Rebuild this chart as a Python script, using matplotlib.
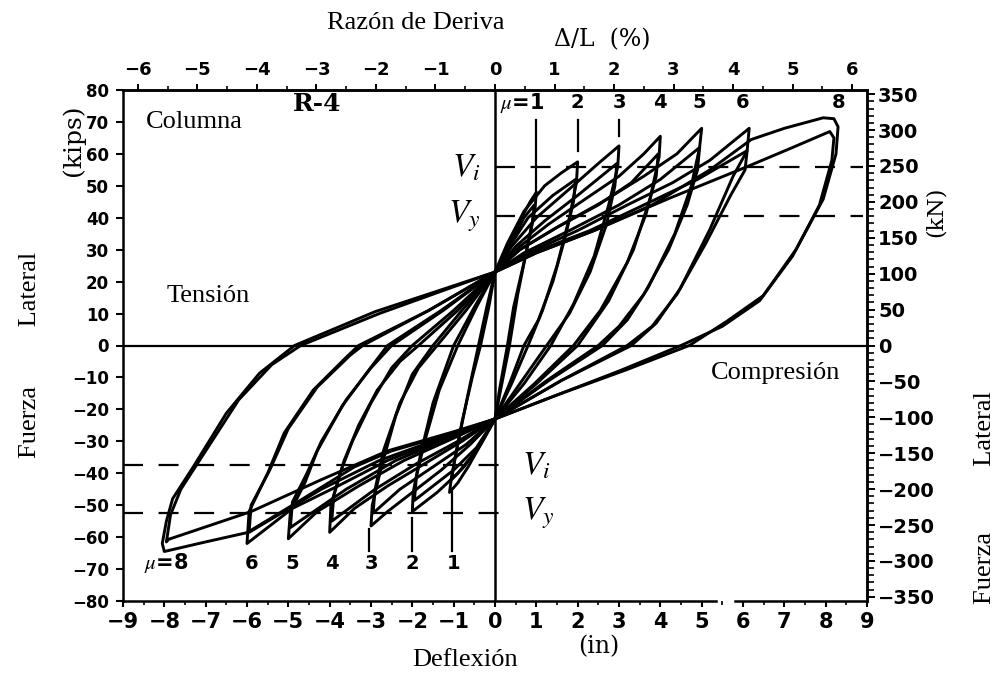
import matplotlib
matplotlib.use("Agg")
import matplotlib.pyplot as plt
from matplotlib.ticker import MultipleLocator, FixedLocator

plt.rcParams["mathtext.fontset"] = "stix"

# ---------------------------------------------------------------- data
# Lateral force (kips) vs. tip deflection (in), column R-4.
# Each cycle: pinch(+) -> peak(+) -> unload -> pinch(-) -> peak(-) -> reload.
mu1_a = [(0.0, 23), (0.3, 30), (0.6, 39), (0.85, 45), (1.0, 48), (0.97, 43), (0.8, 32),
         (0.55, 16), (0.35, 0), (0.15, -13), (0.0, -23), (-0.3, -30), (-0.65, -38),
         (-0.9, -43), (-1.1, -46), (-1.05, -41), (-0.9, -31), (-0.65, -15), (-0.4, 0),
         (-0.2, 12), (0.0, 23)]
mu1_b = [(0.0, 23), (0.35, 31), (0.7, 40), (0.95, 44), (0.9, 38), (0.7, 26), (0.45, 12),
         (0.3, 0), (0.12, -13), (0.0, -23), (-0.35, -31), (-0.75, -38), (-1.05, -42),
         (-0.98, -36), (-0.8, -24), (-0.55, -10), (-0.35, 0), (-0.15, 12), (0.0, 23)]
mu2_a = [(0.0, 23), (0.3, 32), (0.7, 42), (1.2, 50), (1.6, 54), (2.0, 57.5), (1.97, 51),
         (1.8, 40), (1.5, 25), (1.15, 11), (0.8, 0), (0.4, -12), (0.0, -23), (-0.4, -32),
         (-0.9, -40), (-1.4, -46), (-2.0, -52), (-1.98, -46), (-1.8, -34), (-1.5, -18),
         (-1.0, 0), (-0.5, 12), (0.0, 23)]
mu2_b = [(0.0, 23), (0.35, 31), (0.8, 40), (1.4, 47), (1.95, 52), (1.9, 45), (1.7, 34),
         (1.4, 20), (1.05, 8), (0.7, 0), (0.35, -12), (0.0, -23), (-0.45, -32),
         (-1.0, -39), (-1.5, -44), (-1.95, -48.5), (-1.9, -41), (-1.7, -30),
         (-1.35, -14), (-0.9, 0), (-0.45, 12), (0.0, 23)]
mu3_a = [(0.0, 23), (0.4, 31), (1.0, 40), (1.8, 49), (2.5, 57), (3.0, 62.5), (2.97, 56),
         (2.75, 44), (2.4, 28), (1.9, 13), (1.35, 0), (0.7, -12), (0.0, -23), (-0.6, -31),
         (-1.3, -39), (-2.0, -46), (-2.6, -52), (-3.0, -56.5), (-2.97, -50),
         (-2.75, -38), (-2.4, -22), (-2.0, -9), (-1.5, 0), (-0.8, 11), (0.0, 23)]
mu3_b = [(0.0, 23), (0.5, 31), (1.2, 39), (2.0, 47), (2.95, 57), (2.9, 50), (2.7, 38),
         (2.3, 23), (1.8, 10), (1.25, 0), (0.6, -12), (0.0, -23), (-0.7, -31),
         (-1.5, -38), (-2.3, -45), (-2.95, -52.5), (-2.9, -45), (-2.7, -33),
         (-2.3, -18), (-1.85, -7), (-1.4, 0), (-0.7, 11), (0.0, 23)]
mu4_a = [(0.0, 23), (0.5, 30), (1.3, 38), (2.2, 46), (3.0, 53), (3.6, 60), (4.0, 65.5),
         (3.97, 59), (3.75, 46), (3.35, 30), (2.75, 14), (2.0, 0), (1.0, -12), (0.0, -23),
         (-0.8, -30), (-1.7, -37), (-2.6, -44), (-3.4, -51), (-4.0, -58.5), (-3.97, -50),
         (-3.75, -40), (-3.45, -30), (-3.0, -18), (-2.5, -7), (-2.0, 0), (-1.0, 11),
         (0.0, 23)]
mu4_b = [(0.0, 23), (0.6, 30), (1.5, 37), (2.5, 44), (3.3, 51), (3.95, 60), (3.9, 53),
         (3.65, 41), (3.2, 26), (2.55, 11), (1.9, 0), (0.95, -12), (0.0, -23),
         (-0.9, -30), (-1.9, -37), (-2.9, -45), (-3.95, -55), (-3.9, -47), (-3.65, -36),
         (-3.3, -25), (-2.85, -14), (-2.3, -5), (-1.85, 0), (-0.9, 11), (0.0, 23)]
mu5_a = [(0.0, 23), (0.6, 30), (1.5, 37), (2.6, 45), (3.6, 53), (4.4, 60), (5.0, 68),
         (4.95, 62), (4.75, 50), (4.35, 35), (3.7, 18), (3.2, 8), (2.6, 0), (1.3, -11),
         (0.0, -23), (-1.0, -29), (-2.2, -36), (-3.3, -44), (-4.3, -52), (-5.0, -60.5),
         (-4.95, -52), (-4.6, -43), (-4.3, -33), (-3.7, -19), (-3.1, -8.5), (-2.6, 0),
         (-1.3, 11), (0.0, 23)]
mu5_b = [(0.0, 23), (0.7, 29), (1.8, 36), (3.0, 44), (4.0, 52), (4.95, 62), (4.9, 55),
         (4.65, 44), (4.2, 30), (3.6, 16), (3.0, 6), (2.5, 0), (1.25, -11), (0.0, -23),
         (-1.1, -29), (-2.4, -36), (-3.6, -45), (-4.95, -57), (-4.9, -49), (-4.55, -40),
         (-4.2, -30), (-3.6, -17), (-3.0, -7), (-2.5, 0), (-1.25, 11), (0.0, 23)]
mu6_a = [(0.0, 23), (0.8, 29), (2.0, 36), (3.2, 44), (4.3, 51), (5.2, 58), (6.15, 68),
         (6.1, 61), (5.76, 53), (5.2, 36.4), (4.48, 17.8), (3.9, 7), (3.3, 0), (1.6, -11),
         (0.0, -23), (-1.2, -29), (-2.6, -36), (-3.8, -44), (-4.9, -51), (-6.0, -62),
         (-5.95, -52), (-5.5, -40), (-5.1, -27.4), (-4.4, -14), (-3.6, -3.7), (-3.3, 0),
         (-1.6, 11), (0.0, 23)]
mu6_b = [(0.0, 23), (0.9, 29), (2.3, 36), (3.6, 44), (4.9, 52), (6.1, 61), (6.05, 55),
         (5.7, 47), (5.1, 32), (4.4, 16), (3.8, 6), (3.2, 0), (1.6, -11), (0.0, -23),
         (-1.3, -29), (-2.8, -36), (-4.2, -45), (-5.95, -58.5), (-5.9, -50), (-5.45, -39),
         (-5.0, -26), (-4.3, -13), (-3.5, -3), (-3.2, 0), (-1.6, 11), (0.0, 23)]
mu8_a = [(0.0, 23), (1.0, 29), (2.4, 36), (3.8, 44), (5.2, 55), (6.2, 64.5), (7.0, 68),
         (7.94, 71.3), (8.2, 71), (8.3, 68.5), (8.25, 60), (7.94, 45.8), (7.29, 30.2),
         (6.49, 15.6), (5.6, 7.5), (4.7, 0), (3.2, -7.5), (1.5, -15.5), (0.0, -23),
         (-0.9, -27), (-2.5, -33), (-3.4, -38), (-4.9, -50), (-6.0, -58.6), (-7.0, -61.5),
         (-8.0, -64.5), (-8.05, -62), (-7.95, -55), (-7.8, -48), (-7.3, -38),
         (-6.5, -21.2), (-5.7, -8.7), (-4.85, 0), (-2.9, 10.6), (-1.4, 17), (0.0, 23)]
mu8_b = [(0.0, 23), (1.0, 29), (2.4, 36), (4.2, 46), (6.1, 56), (7.2, 62), (8.1, 67),
         (8.2, 65), (8.15, 58), (7.85, 44), (7.2, 28), (6.4, 14), (5.5, 6), (4.5, 0),
         (3.0, -8), (1.5, -15.5), (0.0, -23), (-1.0, -27), (-2.6, -33), (-4.2, -42),
         (-5.9, -52), (-7.9, -60.7), (-7.95, -61.5), (-7.85, -53), (-7.6, -45),
         (-7.0, -33), (-6.2, -17), (-5.4, -6), (-4.7, 0), (-2.8, 10), (-1.3, 17),
         (0.0, 23)]

cycles = [mu1_a, mu1_b, mu2_a, mu2_b, mu3_a, mu3_b, mu4_a, mu4_b,
          mu5_a, mu5_b, mu6_a, mu6_b, mu8_a, mu8_b]

# strength levels (kips)
v_i_pos, v_y_pos = 56.0, 40.5
v_i_neg, v_y_neg = -37.5, -52.5

# ductility levels marked along the top and bottom
mu_top = ["2", "3", "4", "5", "6", "8"]
mu_top_x = [2.0, 3.0, 4.0, 4.95, 6.0, 8.3]
mu_bot = ["6", "5", "4", "3", "2", "1"]
mu_bot_x = [-5.9, -4.9, -3.95, -3.0, -2.0, -1.0]
# pointer lines: x, y_start, y_end
pointer_top = [(1.0, 70.7, 48.5), (2.0, 70.7, 60.8), (3.0, 70.7, 65.7)]
pointer_bot = [(-3.05, -57.6, -64.5), (-2.0, -53.9, -64.5), (-1.05, -45.8, -64.5)]

column_height = 144.0   # in, drift ratio = deflection / L
kip_to_kn = 4.448

# ---------------------------------------------------------------- figure
W, H = 1006, 673
fig = plt.figure(figsize=(W / 100, H / 100), dpi=100)
ax = fig.add_axes([123 / W, 1 - 601 / H, (867 - 123) / W, (601 - 90) / H])

for c in cycles:
    xs = [p[0] for p in c]
    ys = [p[1] for p in c]
    ax.plot(xs, ys, color="black", lw=2.1, solid_joinstyle="round", zorder=3)

ax.set_xlim(-9, 9)
ax.set_ylim(-80, 80)
ax.axhline(0, color="black", lw=1.6, zorder=2)
ax.axvline(0, color="black", lw=1.8, zorder=2)

dash = dict(color="black", lw=1.6, dashes=(9, 7), zorder=2)
ax.plot([0, 8.9], [v_i_pos, v_i_pos], **dash)
ax.plot([0, 8.9], [v_y_pos, v_y_pos], **dash)
ax.plot([-9, 0.45], [v_i_neg, v_i_neg], **dash)
ax.plot([-9, 0.45], [v_y_neg, v_y_neg], **dash)

vfont = dict(fontsize=24, color="black")
ax.text(-0.35, v_i_pos, r"$V_i$", ha="right", va="center", **vfont)
ax.text(-0.35, v_y_pos, r"$V_y$", ha="right", va="center", **vfont)
ax.text(0.65, v_i_neg, r"$V_i$", ha="left", va="center", **vfont)
ax.text(0.65, v_y_neg, r"$V_y$", ha="left", va="center", **vfont)

# ductility annotations
mfont = dict(fontsize=14, fontweight="bold", family="DejaVu Sans", ha="center", va="center")
ax.text(1.18, 76, r"$\mu$=1", **{**mfont, "ha": "right", "fontsize": 15})
for lab, x in zip(mu_top, mu_top_x):
    ax.text(x, 76, lab, **mfont)
ax.text(-7.95, -68.2, r"$\mu$=8", **{**mfont, "fontsize": 15})
for lab, x in zip(mu_bot, mu_bot_x):
    ax.text(x, -68.2, lab, **mfont)
for x, y0, y1 in pointer_top + pointer_bot:
    ax.plot([x, x], [y0, y1], color="black", lw=1.6, zorder=3)

serif = dict(family="Liberation Serif", fontsize=19, color="black")
ax.text(-8.45, 70, "Columna", ha="left", va="center", **serif)
ax.text(-4.3, 75.5, "R-4", ha="center", va="center", family="DejaVu Serif",
        fontsize=18, fontweight="bold")
ax.text(-7.95, 15.5, "Tensión", ha="left", va="center", **serif)
ax.text(8.35, -8.5, "Compresión", ha="right", va="center", **serif)

# frame: bottom spine is broken between 5 and 6 in
for s in ["left", "top", "right"]:
    ax.spines[s].set_linewidth(1.8)
ax.spines["bottom"].set_visible(False)
ax.plot([-9, 5.35], [-80, -80], color="black", lw=1.8, clip_on=False, zorder=4)
ax.plot([5.8, 9], [-80, -80], color="black", lw=1.8, clip_on=False, zorder=4)

ax.yaxis.set_major_locator(MultipleLocator(10))
ax.tick_params(axis="y", direction="out", length=5, width=1.5, pad=5, labelsize=12)
ax.xaxis.set_major_locator(MultipleLocator(1))
ax.xaxis.set_minor_locator(MultipleLocator(0.5))
ax.tick_params(axis="x", which="major", direction="out", length=4, width=1.5,
               pad=4, labelsize=15)
ax.tick_params(axis="x", which="minor", direction="out", length=3, width=1.2)
for lab in ax.get_xticklabels() + ax.get_yticklabels():
    lab.set_fontweight("bold")

top = ax.secondary_xaxis("top", functions=(lambda x: x / column_height * 100,
                                           lambda p: p * column_height / 100))
top.xaxis.set_major_locator(FixedLocator(range(-6, 7)))
top.xaxis.set_minor_locator(MultipleLocator(0.5))
top.tick_params(which="major", direction="out", length=4, width=1.4, pad=4, labelsize=13)
top.tick_params(which="minor", direction="out", length=3, width=1.2)
top.spines["top"].set_linewidth(1.8)
for lab in top.get_xticklabels():
    lab.set_fontweight("bold")

right = ax.secondary_yaxis("right", functions=(lambda k: k * kip_to_kn,
                                               lambda q: q / kip_to_kn))
right.yaxis.set_major_locator(FixedLocator(range(-350, 351, 50)))
right.yaxis.set_minor_locator(MultipleLocator(10))
right.tick_params(which="major", direction="out", length=6, width=1.4, pad=2, labelsize=14)
right.tick_params(which="minor", direction="out", length=5, width=1.2)
right.spines["right"].set_linewidth(1.8)
for lab in right.get_yticklabels():
    lab.set_fontweight("bold")

# axis titles
mono = dict(family="DejaVu Serif", color="black")
fig.text(416 / W, 1 - 23 / H, "Razón de Deriva", ha="center", va="center", **serif)
fig.text(602 / W, 1 - 40 / H, "Δ/L  (%)", ha="center", va="center", fontsize=17, **mono)
fig.text(465 / W, 1 - 660 / H, "Deflexión", ha="center", va="center", **serif)
fig.text(599 / W, 1 - 647 / H, "(in)", ha="center", va="center", fontsize=17, **mono)
fig.text(30 / W, 1 - 355 / H, "Fuerza         Lateral", rotation=90, ha="center",
         va="center", **serif)
fig.text(985 / W, 1 - 498 / H, "Fuerza          Lateral", rotation=90, ha="center",
         va="center", **serif)
fig.text(73 / W, 1 - 140 / H, "(kips)", rotation=90, ha="center", va="center",
         fontsize=18, **mono)
fig.text(936 / W, 1 - 212 / H, "(kN)", rotation=90, ha="center", va="center",
         fontsize=16, **mono)

fig.savefig("out.png", dpi=100)
